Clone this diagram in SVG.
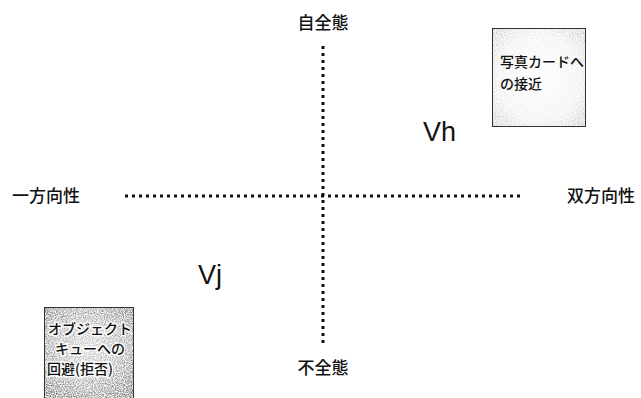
<svg xmlns="http://www.w3.org/2000/svg" width="641" height="398" viewBox="0 0 641 398">
<style>
.lbl{font-family:"Noto Sans CJK JP","Noto Sans",sans-serif;font-size:17px;font-weight:500;fill:#111}
.box{font-family:"Noto Sans CJK JP","Noto Sans",sans-serif;font-size:14px;font-weight:500;fill:#111}
.v{font-family:"Liberation Sans",Arial,sans-serif;font-size:27px;fill:#111}
.dot{stroke:#111;stroke-width:3;stroke-dasharray:3 4;fill:none}
</style>
<defs>
<filter id="grain" x="0" y="0" width="1" height="1">
<feTurbulence type="fractalNoise" baseFrequency="0.9" numOctaves="2" seed="3" result="n"/>
<feColorMatrix in="n" type="matrix" values="0 0 0 0 0  0 0 0 0 0  0 0 0 0 0  0 0 0 -1.6 1.15" result="a"/>
<feComposite in="SourceGraphic" in2="a" operator="in"/>
</filter>
<radialGradient id="g1" cx="0.5" cy="0.5" r="0.72">
<stop offset="0" stop-color="#fafafa"/><stop offset="0.6" stop-color="#e8e8e8"/><stop offset="1" stop-color="#a8a8a8"/>
</radialGradient>
<radialGradient id="g2" cx="0.5" cy="0.45" r="0.72">
<stop offset="0" stop-color="#bcbcbc"/><stop offset="0.6" stop-color="#7a7a7a"/><stop offset="1" stop-color="#333333"/>
</radialGradient>
</defs>
<rect width="641" height="398" fill="#ffffff"/>
<g id="connectors">
<line class="dot" x1="125" y1="196" x2="522" y2="196"/>
<line class="dot" x1="323" y1="46" x2="323" y2="345"/>
</g>
<g id="top-label"><text class="lbl" x="323" y="29" text-anchor="middle">自全態</text></g>
<g id="bottom-label"><text class="lbl" x="323" y="374" text-anchor="middle">不全態</text></g>
<g id="left-label"><text class="lbl" x="12" y="202">一方向性</text></g>
<g id="right-label"><text class="lbl" x="567" y="202">双方向性</text></g>
<g id="vh"><text class="v" x="423" y="141">Vh</text></g>
<g id="vj"><text class="v" x="198" y="284">Vj</text></g>
<g id="box-approach">
<rect x="492" y="28" width="94" height="99" fill="url(#g1)" filter="url(#grain)"/>
<rect x="492.5" y="28.5" width="93" height="98" fill="none" stroke="#333" stroke-width="1"/>
<text class="box" x="500" y="67">写真カードへ</text>
<text class="box" x="500" y="89">の接近</text>
</g>
<g id="box-avoid">
<rect x="44" y="307" width="90" height="91" fill="url(#g2)" filter="url(#grain)"/>
<rect x="44.5" y="307.5" width="89" height="91" fill="none" stroke="#333" stroke-width="1"/>
<g class="box" stroke="#ffffff" stroke-width="3" stroke-opacity="0.85" paint-order="stroke">
<text x="48" y="334">オブジェクト</text>
<text x="55" y="354">キューへの</text>
<text x="47" y="374">回避(拒否)</text>
</g>
</g>
</svg>
